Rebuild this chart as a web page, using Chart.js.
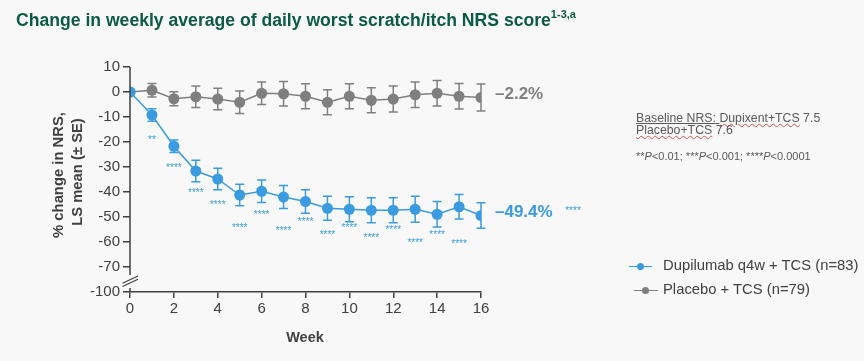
<!DOCTYPE html>
<html>
<head>
<meta charset="utf-8">
<script src="https://cdn.jsdelivr.net/npm/chart.js@4"></script>
<style>
  html, body { margin:0; padding:0; background:#f8f8f8; }
  body { width:864px; height:361px; position:relative; overflow:hidden; font-family:"Liberation Sans", Arial, sans-serif; }
  #wrap { position:absolute; left:0; top:0; width:864px; height:361px; }
  #title { position:absolute; left:16px; top:9px; font-weight:bold; font-size:17.6px; color:#0b5a43; white-space:nowrap; }
  #title sup { font-size:11px; position:relative; top:-1px; }
  .ytitle { position:absolute; font-weight:bold; font-size:14.8px; color:#404040; white-space:nowrap; transform-origin:center center; transform:translate(-50%,-50%) rotate(-90deg); }
  #xtitle { position:absolute; left:305px; top:337px; transform:translate(-50%,-50%); font-weight:bold; font-size:14.5px; color:#404040; }
  #note { position:absolute; left:636px; top:113px; font-size:12.3px; line-height:11.5px; color:#595959; white-space:nowrap; }
  #note .u { text-decoration:underline; text-decoration-color:#595959; }
  #note .w { text-decoration:underline wavy #e05050; text-decoration-thickness:1px; }
  #pnote { position:absolute; left:636px; top:150px; font-size:11px; color:#595959; white-space:nowrap; }
  .leg { position:absolute; font-size:14.8px; color:#404040; white-space:nowrap; }
  .legline { position:absolute; height:1.5px; }
  .legdot { position:absolute; width:7px; height:7px; border-radius:50%; }
</style>
</head>
<body>
<div id="wrap"><canvas id="c" width="864" height="361"></canvas></div>
<div id="title">Change in weekly average of daily worst scratch/itch NRS score<sup>1-3,a</sup></div>
<div class="ytitle" style="left:58px; top:175px;">% change in NRS,</div>
<div class="ytitle" style="left:77px; top:172px;">LS mean (± SE)</div>
<div id="xtitle">Week</div>
<div id="note"><span class="u">Baseline NRS: </span><span class="w">Dupixent+TCS</span> 7.5<br><span class="w">Placebo+TCS</span> 7.6</div>
<div id="pnote">**<i>P</i>&lt;0.01; ***<i>P</i>&lt;0.001; ****<i>P</i>&lt;0.0001</div>
<div class="legline" style="left:629px; top:265.5px; width:23px; background:#3a9be0;"></div>
<div class="legdot" style="left:637px; top:262.5px; background:#3a9be0;"></div>
<div class="leg" style="left:663px; top:257px;">Dupilumab q4w + TCS (n=83)</div>
<div class="legline" style="left:634px; top:289.5px; width:24px; background:#7f7f7f;"></div>
<div class="legdot" style="left:642px; top:286.5px; background:#7f7f7f;"></div>
<div class="leg" style="left:663px; top:281px;">Placebo + TCS (n=79)</div>
<script>
const weeks = [0,1,2,3,4,5,6,7,8,9,10,11,12,13,14,15,16];
const dupiMean = [0,-9.2,-21.7,-31.6,-34.8,-41.2,-39.7,-42.0,-43.8,-46.5,-46.9,-47.3,-47.3,-46.9,-48.9,-45.9,-49.4];
const dupiSE = [0,2.5,2.5,4.3,4.3,4.3,4.5,4.6,4.7,4.8,5.0,5.0,5.0,5.2,5.1,4.9,5.1];
const placeboMean = [0,0.7,-2.7,-1.9,-2.8,-4.1,-0.5,-0.7,-1.7,-4.1,-1.7,-3.3,-2.8,-1.1,-0.5,-1.7,-2.2];
const placeboSE = [0,2.7,2.8,4.3,4.3,4.5,4.5,4.9,5.0,5.0,5.0,5.0,5.2,5.1,5.1,5.1,5.4];
const sigLabels = ['','**','****','****','****','****','****','****','****','****','****','****','****','****','****','****',''];
const sigLabelY = [null,-18.0,-29.5,-39.2,-44.1,-53.2,-48.1,-54.4,-50.8,-56.1,-53.2,-57.2,-54.1,-59.2,-56.1,-59.6,null];
const endLabels = ['\u201349.4%','\u20132.2%'];
const endSig = ['****',''];
const yTickValues = [10,0,-10,-20,-30,-40,-50,-60,-70,-80];
const yTickLabels = ['10','0','-10','-20','-30','-40','-50','-60','-70','-100'];
const xTickLabels = ['0','2','4','6','8','10','12','14','16'];

const BLUE = '#3a9be0', GRAY = '#7f7f7f', AXIS = '#404040';
const seArrays = [dupiSE, placeboSE];

const extras = {
  id:'extras',
  beforeDatasetsDraw(chart){
    const ctx = chart.ctx, ys = chart.scales.y;
    chart.data.datasets.forEach((ds, i) => {
      const meta = chart.getDatasetMeta(i);
      ctx.save();
      ctx.strokeStyle = ds.borderColor; ctx.lineWidth = 1.5;
      meta.data.forEach((pt, j) => {
        const se = seArrays[i][j]; if (!se) return;
        const v = ds.data[j].y;
        const t = ys.getPixelForValue(v + se), b = ys.getPixelForValue(v - se);
        ctx.beginPath();
        ctx.moveTo(pt.x, t); ctx.lineTo(pt.x, b);
        ctx.moveTo(pt.x - 4.5, t); ctx.lineTo(pt.x + 4.5, t);
        ctx.moveTo(pt.x - 4.5, b); ctx.lineTo(pt.x + 4.5, b);
        ctx.stroke();
      });
      ctx.restore();
    });
  },
  afterDraw(chart){
    const ctx = chart.ctx, xs = chart.scales.x, ys = chart.scales.y, ca = chart.chartArea;
    ctx.save();
    ctx.strokeStyle = AXIS; ctx.lineWidth = 1.5;
    const L = ca.left;
    ctx.beginPath();
    ctx.moveTo(L, ys.getPixelForValue(10)); ctx.lineTo(L, ys.getPixelForValue(-73.2));
    ctx.moveTo(L, ys.getPixelForValue(-78.4)); ctx.lineTo(L, ca.bottom);
    ctx.stroke();
    const yc = ys.getPixelForValue(-75.6);
    ctx.lineWidth = 1.2;
    ctx.beginPath();
    ctx.moveTo(L - 7.5, yc + 2.2); ctx.lineTo(L + 8, yc - 5);
    ctx.moveTo(L - 7.5, yc + 5.5); ctx.lineTo(L + 8, yc - 1.7);
    ctx.stroke();
    ctx.fillStyle = BLUE;
    ctx.font = '10px "Liberation Sans", Arial, sans-serif';
    ctx.textAlign = 'center'; ctx.textBaseline = 'alphabetic';
    sigLabels.forEach((s, j) => {
      if (!s) return;
      ctx.fillText(s, xs.getPixelForValue(weeks[j]), ys.getPixelForValue(sigLabelY[j]) + 5.7);
    });
    chart.data.datasets.forEach((ds, i) => {
      const meta = chart.getDatasetMeta(i);
      const pt = meta.data[meta.data.length - 1];
      ctx.fillStyle = ds.borderColor;
      ctx.font = 'bold 17px "Liberation Sans", Arial, sans-serif';
      ctx.textAlign = 'left'; ctx.textBaseline = 'middle';
      ctx.fillText(endLabels[i], pt.x + 14, pt.y - 3);
      if (endSig[i]) {
        ctx.font = '10px "Liberation Sans", Arial, sans-serif';
        ctx.textAlign = 'center'; ctx.textBaseline = 'alphabetic';
        ctx.fillText(endSig[i], pt.x + 92, pt.y - 7 + 5.7);
      }
    });
    ctx.restore();
  }
};

const toPts = arr => arr.map((v, i) => ({x: weeks[i], y: v}));

new Chart(document.getElementById('c'), {
  type: 'line',
  data: {
    datasets: [
      { label:'Dupilumab q4w + TCS (n=83)', data: toPts(dupiMean), borderColor: BLUE, backgroundColor: BLUE,
        borderWidth: 1.5, pointRadius: 5.5, pointBorderWidth: 0, pointHoverRadius: 5.5, tension: 0 },
      { label:'Placebo + TCS (n=79)', data: toPts(placeboMean), borderColor: GRAY, backgroundColor: GRAY,
        borderWidth: 1.5, pointRadius: 5.5, pointBorderWidth: 0, pointHoverRadius: 5.5, tension: 0 }
    ]
  },
  options: {
    responsive: false, animation: false, events: [],
    layout: { padding: { top: 67, right: 383, left: 0, bottom: 0 } },
    plugins: { legend: { display: false }, tooltip: { enabled: false }, title: { display: false } },
    scales: {
      x: {
        type: 'linear', min: 0, max: 16,
        afterFit: s => { s.height = 69; },
        afterBuildTicks: s => { s.ticks = xTickLabels.map(t => ({ value: Number(t) })); },
        ticks: { callback: (v) => xTickLabels[xTickLabels.indexOf(String(v))], color: AXIS, padding: 2,
                 font: { family: '"Liberation Sans", Arial, sans-serif', size: 15 }, maxRotation: 0 },
        grid: { drawOnChartArea: false, drawTicks: true, tickLength: 6, color: AXIS, lineWidth: 1.5 },
        border: { display: true, color: AXIS, width: 1.5 }
      },
      y: {
        type: 'linear', min: -80, max: 10,
        afterFit: s => { s.width = 130; },
        afterBuildTicks: s => { s.ticks = yTickValues.map(v => ({ value: v })); },
        ticks: { callback: (v) => yTickLabels[yTickValues.indexOf(v)], color: AXIS, padding: 3,
                 font: { family: '"Liberation Sans", Arial, sans-serif', size: 15 } },
        grid: { drawOnChartArea: false, drawTicks: true, tickLength: 7, color: AXIS, lineWidth: 1.5 },
        border: { display: false }
      }
    }
  },
  plugins: [extras]
});
</script>
</body>
</html>
